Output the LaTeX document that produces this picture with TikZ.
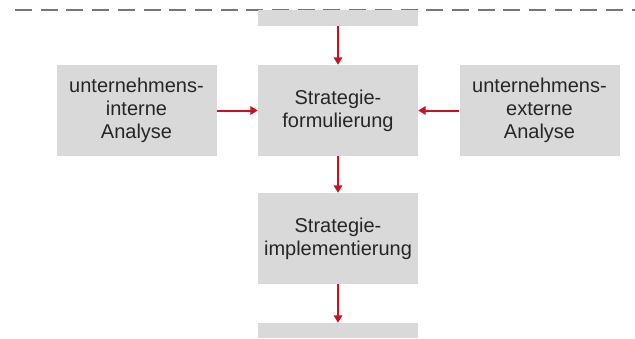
\documentclass[tikz,border=0pt]{standalone}
\usepackage{fontspec}
\setmainfont{Liberation Sans}
\usetikzlibrary{arrows.meta}
\definecolor{boxgray}{HTML}{D9D9D9}
\definecolor{arrowred}{HTML}{CC1020}
\definecolor{textgray}{HTML}{262626}
\definecolor{linegray}{HTML}{767676}
\def\xsep{201.5}
\def\ysep{128}

\begin{document}
\begin{tikzpicture}[
    x=1pt, y=-1pt,
    phasebox/.style={
      fill=boxgray, text=textgray, align=center, inner sep=0pt,
      minimum width=160pt, minimum height=91pt,
      font=\fontsize{20}{23}\selectfont
    },
    stubbox/.style={
      fill=boxgray, inner sep=0pt, minimum width=160pt
    },
    arrowtip/.style={
      draw=arrowred, line width=2pt,
      -{Triangle[length=7.5pt,width=8.5pt]}
    },
    phaseline/.style={
      draw=linegray, line width=2pt, dash pattern=on 17pt off 8.7pt
    }
  ]
    \useasboundingbox (0,0) rectangle (635,338);

    % dashed border above
    \coordinate (LineL) at (15,10);
    \coordinate (LineR) at (635,10);
    \draw[phaseline] (LineL) -- (LineR);

    \node[stubbox, minimum height=16.5pt] (Prev) at (338,17.75) {};

    \node[phasebox] (Form) at (338,110.5) {Strategie-\\formulierung};
    \node[phasebox] (Intern) at (338-\xsep,110.5) {unternehmens-\\interne\\Analyse};
    \node[phasebox] (Extern) at (338+\xsep,110.5) {unternehmens-\\externe\\Analyse};
    \node[phasebox] (Impl) at (338,110.5+\ysep) {Strategie-\\implementierung};

    \node[stubbox, minimum height=15pt] (Next) at (338,330.5) {};

    \draw[arrowtip] (Prev.south) -- (Form.north);
    \draw[arrowtip] (Intern.east) -- (Form.west);
    \draw[arrowtip] (Extern.west) -- (Form.east);
    \draw[arrowtip] (Form.south) -- (Impl.north);
    \draw[arrowtip] (Impl.south) -- (Next.north);
  \end{tikzpicture}
\end{document}
